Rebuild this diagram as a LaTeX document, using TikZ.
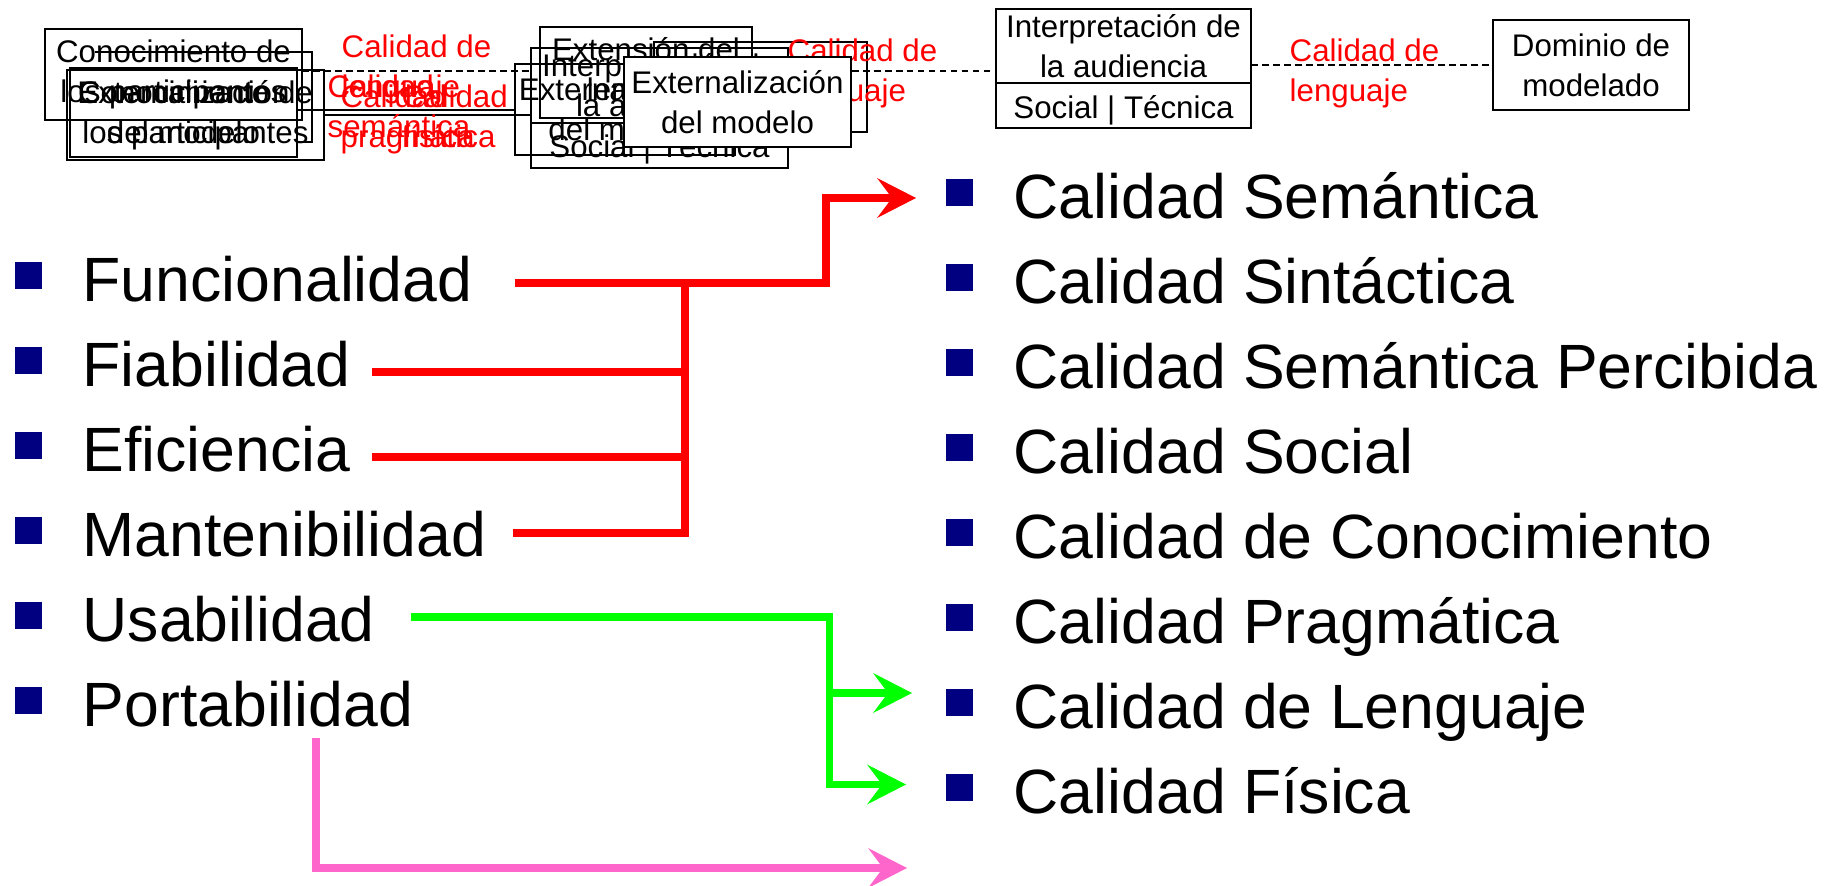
\documentclass[tikz,border=0pt]{standalone}
\usepackage{fontspec}
\setmainfont{Liberation Sans}
\usetikzlibrary{arrows.meta,positioning}
\definecolor{qred}{RGB}{255,0,0}
\definecolor{qgreen}{RGB}{0,255,0}
\definecolor{qpink}{RGB}{255,102,204}
\definecolor{qnavy}{RGB}{0,0,128}
\newcommand{\bigtxt}{\fontsize{17.8pt}{21pt}\selectfont}
\newcommand{\smalltxt}{\fontsize{8.9pt}{11.4pt}\selectfont}
\tikzset{
  bullet/.style={fill=qnavy, minimum size=2.7mm, inner sep=0pt, text height=0pt, text depth=0pt},
  item/.style={anchor=base west, inner sep=0pt, font=\bigtxt, text height=5.2mm, text depth=0pt,
    label={[bullet, label distance=3.9mm]left:{}}},
  box/.style={draw, line width=0.6pt, inner sep=0pt, outer sep=0pt, align=center, font=\smalltxt},
  boxln/.style={line width=0.6pt},
  lbl/.style={anchor=base west, inner sep=0pt, align=left, text=qred, font=\smalltxt},
  dashln/.style={line width=0.8pt, dash pattern=on 0.65mm off 0.45mm},
  redln/.style={draw=qred, line width=0.75mm},
  greenln/.style={draw=qgreen, line width=0.75mm},
  pinkln/.style={draw=qpink, line width=0.75mm},
  tip/.style={-{Stealth[length=3.9mm, width=4mm, inset=1.5mm, line width=0pt]}}
}
\begin{document}
\begin{tikzpicture}[x=0.1mm, y=-0.1mm]
\useasboundingbox (0,0) rectangle (1838,886);
% \helpgrid
\node [box, minimum width=25.5mm, minimum height=7.4mm] (interp) at (1123.5,46) {Interpretación de\\la audiencia};
\node [box, minimum width=25.5mm, minimum height=4.5mm, text height=2.7mm, text depth=0pt, below=0pt of interp] (interpS) {Social | Técnica};
\node [box, minimum width=19.6mm, minimum height=9mm] (dom) at (1591,65) {Dominio de\\modelado};
\node [lbl] (lenR) at (1289,102) {Calidad de\\lenguaje};
\draw [dashln] (interp.east |- dom.west) -- (dom.west);

\node [box, minimum width=25.7mm, minimum height=9.1mm] (cono) at (173.5,74.5) {Conocimiento de\\los participantes};
\draw [boxln] (95,52) -| (312,142) --++ (-15,0);
\node [box, minimum width=22.7mm, minimum height=8.9mm] (extA) at (183.5,112.5) {Externalización\\del modelo};
\node [box, minimum width=25.7mm, minimum height=9mm] (conoB) at (195.5,115) {Conocimiento de\\los participantes};
\coordinate (dashL) at ([yshift=0.35mm]cono.east);
\draw [dashln] (dashL) -- (dashL -| interp.west);

\node [box, fill=white, minimum width=25.7mm, minimum height=7.5mm] (interpM) at (659.5,85.5) {Interpretación de\\la audiencia};
\node [box, fill=white, minimum width=25.7mm, minimum height=4.5mm, text height=2.5mm, text depth=0pt, below=0pt of interpM] (interpMS) {Social | Técnica};
\node [box, minimum width=22mm, minimum height=9.1mm] (extB) at (625,109.5) {Externalización\\del modelo};
\coordinate (extOut) at ([yshift=0.25mm]extA.east);
\draw [boxln] (extOut) -- (extOut -| extB.west);
\draw [boxln] (conoB.east) -- (conoB.east -| interpM.west);
\node [box, minimum width=21.2mm, minimum height=9.1mm] (extLen) at (646,72.5) {Extensión del\\lenguaje};
\node [box, minimum width=21.3mm, minimum height=9mm] (extH) at (760.5,87) {};

\node [lbl] (lenL) at (341,98) {Calidad de\\lenguaje};
\node [lbl] (semL) at (327,138) {Calidad\\semántica};
\node [lbl] (praL) at (340,148) {Calidad\\pragmática};
\node [lbl] (fisL) at (401,148) {Calidad\\física};
\node [lbl] (lenM) at (787,102) {Calidad de\\lenguaje};
\node [box, fill=white, minimum width=22.7mm, minimum height=9mm] (extF) at (737.5,102) {Externalización\\del modelo};

% left list
\node [item] (fun) at (82,301.5) {Funcionalidad};
\node [item] (fia) at (82,386.5) {Fiabilidad};
\node [item] (efi) at (82,471.5) {Eficiencia};
\node [item] (man) at (82,556.5) {Mantenibilidad};
\node [item] (usa) at (82,641.5) {Usabilidad};
\node [item] (por) at (82,726.5) {Portabilidad};
% right list
\node [item] (sem) at (1013,218.5) {Calidad Semántica};
\node [item] (sin) at (1013,303.5) {Calidad Sintáctica};
\node [item] (per) at (1013,388.5) {Calidad Semántica Percibida};
\node [item] (soc) at (1013,473.5) {Calidad Social};
\node [item] (con) at (1013,558.5) {Calidad de Conocimiento};
\node [item] (pra) at (1013,643.5) {Calidad Pragmática};
\node [item] (len) at (1013,728.5) {Calidad de Lenguaje};
\node [item] (fis) at (1013,813.5) {Calidad Física};

\coordinate (funOut) at ([xshift=4.2mm,yshift=-0.75mm]fun.east);
\coordinate (fiaOut) at ([xshift=2.1mm,yshift=-1.15mm]fia.east);
\coordinate (efiOut) at ([xshift=2.1mm,yshift=-1.15mm]efi.east);
\coordinate (manOut) at ([xshift=2.6mm,yshift=-0.25mm]man.east);
\coordinate (usaOut) at ([xshift=3.5mm,yshift=-0.15mm]usa.east);
\coordinate (porOut) at ([xshift=6.8mm,yshift=-1.05mm]por.south);
\coordinate (semIn) at ([xshift=-9.7mm,yshift=-0.55mm]sem.west);
\coordinate (lenIn) at ([xshift=-10.1mm,yshift=0.95mm]len.west);
\coordinate (fisIn) at ([xshift=-10.7mm,yshift=0.3mm]fis.west);
\coordinate (pinkIn) at (907,868);

\draw [redln,tip] (funOut) --++ (311,0) |- (semIn);
\draw [redln] (funOut) ++(170,0) coordinate (redBus) |- (manOut);
\draw [redln] (fiaOut) -- (fiaOut -| redBus);
\draw [redln] (efiOut) -- (efiOut -| redBus);
\draw [greenln,tip] (usaOut) --++ (419,0) coordinate (greenBus) |- (fisIn);
\draw [greenln,tip] (greenBus |- lenIn) -- (lenIn);
\draw [pinkln,tip] (porOut) |- (pinkIn);
\end{tikzpicture}
\end{document}
